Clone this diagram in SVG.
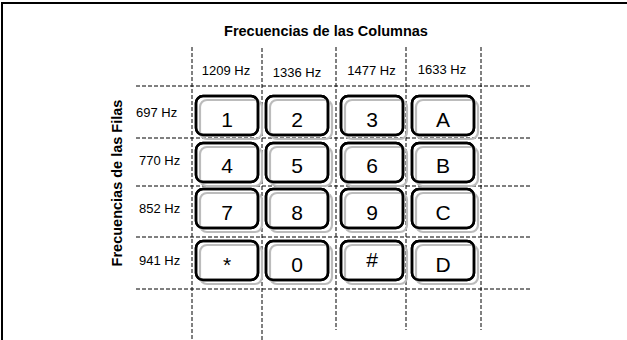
<svg xmlns="http://www.w3.org/2000/svg" width="627" height="340" viewBox="0 0 627 340">
<style>
.t{font-family:"Liberation Sans",Arial,sans-serif;fill:#000}
.title{font-size:14.5px;font-weight:bold}
.vt{font-size:14.5px;font-weight:bold}
.hz{font-size:13px}
.key{font-size:21px;text-anchor:middle}
.grid{stroke:#000;stroke-width:1;stroke-dasharray:4,2;fill:none}
.kb{fill:#fff;stroke:#000;stroke-width:2.5}
.ks{fill:none;stroke:#bcbcbc;stroke-width:2.2}
.ko{fill:none;stroke:#000;stroke-width:2.5}
</style>
<defs>
<g id="btn">
<rect class="kb" x="0" y="0" width="62" height="39" rx="7"/>
<rect class="ks" x="4" y="4" width="62" height="39" rx="7"/>
<rect class="ko" x="0" y="0" width="62" height="39" rx="7"/>
</g>
</defs>
<rect width="627" height="340" fill="#fff"/>
<path d="M2,340 V3 H627" fill="none" stroke="#000" stroke-width="2"/>
<g id="grid-lines">
<path class="grid" d="M136,86 H532 M136,138 H532 M136,186 H532 M136,237 H532 M136,289 H532"/>
<path class="grid" d="M192,47 V340 M262,48 V340 M336,47 V330 M406,47 V330 M481,47 V330"/>
</g>
<g id="labels">
<text class="t title" x="326" y="36" text-anchor="middle">Frecuencias de las Columnas</text>
<text class="t vt" transform="translate(122,183) rotate(-90)" text-anchor="middle">Frecuencias de las Filas</text>
<text class="t hz" x="226" y="75" text-anchor="middle">1209 Hz</text>
<text class="t hz" x="297" y="77" text-anchor="middle">1336 Hz</text>
<text class="t hz" x="371.5" y="75" text-anchor="middle">1477 Hz</text>
<text class="t hz" x="442" y="74" text-anchor="middle">1633 Hz</text>
<text class="t hz" x="136" y="117">697 Hz</text>
<text class="t hz" x="139" y="165">770 Hz</text>
<text class="t hz" x="139" y="213">852 Hz</text>
<text class="t hz" x="139" y="265">941 Hz</text>
</g>
<g id="k1"><use href="#btn" x="196" y="96"/><text class="t key" x="227" y="127">1</text></g>
<g id="k2"><use href="#btn" x="266" y="96"/><text class="t key" x="297" y="127">2</text></g>
<g id="k3"><use href="#btn" x="341" y="96"/><text class="t key" x="372" y="127">3</text></g>
<g id="kA"><use href="#btn" x="412" y="96"/><text class="t key" x="443" y="127">A</text></g>
<g id="k4"><use href="#btn" x="196" y="143"/><text class="t key" x="227" y="173">4</text></g>
<g id="k5"><use href="#btn" x="266" y="143"/><text class="t key" x="297" y="173">5</text></g>
<g id="k6"><use href="#btn" x="341" y="143"/><text class="t key" x="372" y="173">6</text></g>
<g id="kB"><use href="#btn" x="412" y="143"/><text class="t key" x="443" y="173">B</text></g>
<g id="k7"><use href="#btn" x="196" y="189"/><text class="t key" x="227" y="220">7</text></g>
<g id="k8"><use href="#btn" x="266" y="189"/><text class="t key" x="297" y="220">8</text></g>
<g id="k9"><use href="#btn" x="341" y="189"/><text class="t key" x="372" y="220">9</text></g>
<g id="kC"><use href="#btn" x="412" y="189"/><text class="t key" x="443" y="220">C</text></g>
<g id="kstar"><use href="#btn" x="196" y="241"/><text class="t key" x="227" y="272">*</text></g>
<g id="k0"><use href="#btn" x="266" y="241"/><text class="t key" x="297" y="272">0</text></g>
<g id="khash"><use href="#btn" x="341" y="241"/><text class="t key" x="372" y="267">#</text></g>
<g id="kD"><use href="#btn" x="412" y="241"/><text class="t key" x="443" y="272">D</text></g>
</svg>
